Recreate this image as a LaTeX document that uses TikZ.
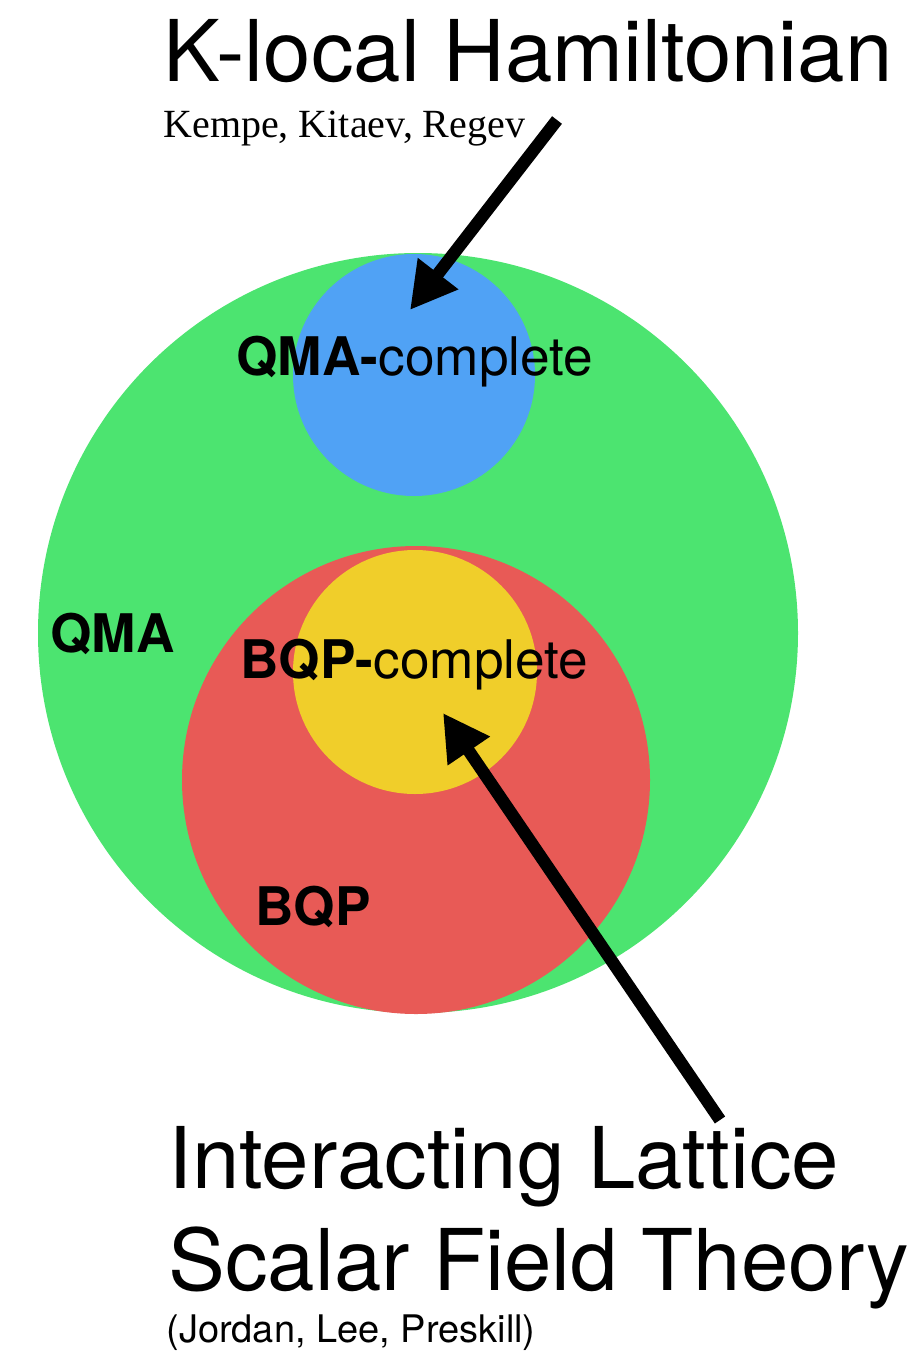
\documentclass[tikz,border=0pt]{standalone}
\usepackage{fontspec}
\setmainfont{TeX Gyre Heros}
\newfontfamily\refsfont{Liberation Serif}
\usetikzlibrary{arrows.meta}
\definecolor{qmagreen}{RGB}{76,228,112}
\definecolor{qmcblue}{RGB}{80,162,245}
\definecolor{bqpred}{RGB}{232,90,86}
\definecolor{bqcyellow}{RGB}{240,206,42}

\begin{document}
\begin{tikzpicture}[x=0.5pt,y=-0.5pt,
	set/.style={circle,inner sep=0pt},
	lbl/.style={anchor=base west,inner sep=0pt},
	bigtxt/.style={lbl,font=\fontsize{42.6}{48}\selectfont},
	midtxt/.style={lbl,font=\fontsize{26.6}{30}\selectfont},
	arr/.style={line width=6.2pt,-{Triangle[length=23pt,width=24pt]}}]
	\useasboundingbox (0,0) rectangle (908,1354);
	% the classes
	\node[set,fill=qmagreen,minimum size=380pt] (qma) at (418,633) {};
	\node[set,fill=qmcblue,minimum size=121pt] (qmac) at (414,375) {};
	\node[set,fill=bqpred,minimum size=234pt] (bqp) at (416,780) {};
	\node[set,fill=bqcyellow,minimum size=122pt] (bqpc) at (415,672) {};
	% labels
	\node[midtxt] (qmaclbl) at (236,375) {\bfseries QMA-\mdseries complete};
	\node[midtxt] (qmalbl) at (50,652) {\bfseries QMA};
	\node[midtxt] (bqpclbl) at (240,678) {\bfseries BQP-\mdseries complete};
	\node[midtxt] (bqplbl) at (255,925) {\bfseries BQP};
	% problems
	\node[bigtxt] (khamil) at (163,82) {K-local Hamiltonian};
	\node[lbl,font=\refsfont\fontsize{20}{22}\selectfont] (kkr) at (163,138) {Kempe, Kitaev, Regev};
	\node[bigtxt] (ilat) at (168,1188) {Interacting Lattice};
	\node[bigtxt] (sft) at (168,1290) {Scalar Field Theory};
	\node[lbl,font=\fontsize{19}{21}\selectfont] (jlp) at (166,1342) {(Jordan, Lee, Preskill)};
	\coordinate (ktail) at (557,120);
	\coordinate (ktip) at (410,310);
	\coordinate (stail) at (720,1120);
	\coordinate (stip) at (443,713);
	\draw[arr] (ktail) -- (ktip);
	\draw[arr] (stail) -- (stip);
\end{tikzpicture}
\end{document}
